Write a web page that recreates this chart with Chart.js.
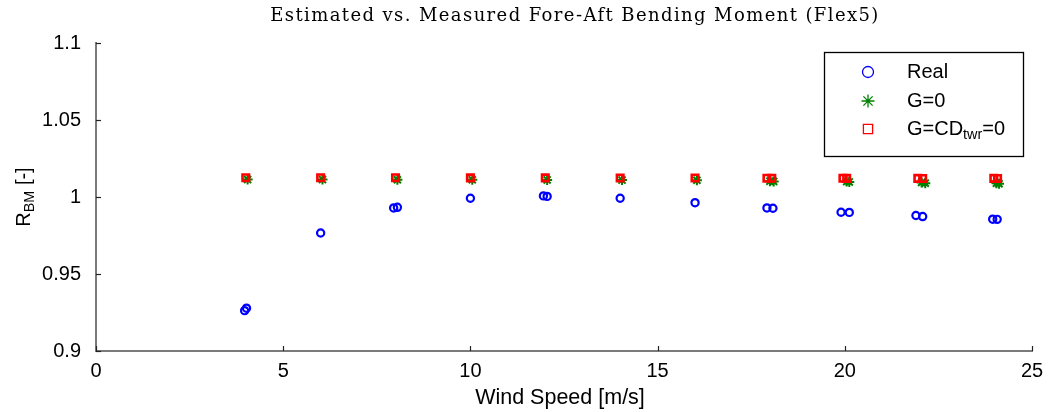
<!DOCTYPE html>
<html>
<head>
<meta charset="utf-8">
<script src="https://cdn.jsdelivr.net/npm/chart.js@4/dist/chart.umd.min.js"></script>
<style>
  html, body { margin: 0; padding: 0; background: #fff; }
  #wrap { width: 1048px; height: 412px; position: relative; }
</style>
</head>
<body>
<div id="wrap"><canvas id="c" width="1048" height="412"></canvas></div>
<script>
// Wind speeds [m/s] and bending-moment ratios for each estimator
const realWind   = [3.97, 4.02, 6.0, 7.95, 8.05, 10.0, 11.95, 12.05, 14.0, 16.0, 17.92, 18.08, 19.9, 20.12, 21.9, 22.08, 23.95, 24.07];
const realRatio  = [0.9262, 0.9278, 0.9766, 0.9929, 0.9933, 0.9992, 1.0007, 1.0004, 0.9992, 0.9963, 0.9929, 0.9927, 0.9901, 0.9900, 0.9880, 0.9873, 0.9856, 0.9855];

const g0Wind     = [4.05, 6.05, 8.05, 10.05, 12.05, 14.05, 16.05, 18.0, 18.1, 20.05, 20.12, 22.05, 22.15, 24.05, 24.12];
const g0Ratio    = [1.0113, 1.0113, 1.0112, 1.0112, 1.0111, 1.0110, 1.0109, 1.0103, 1.0101, 1.0100, 1.0098, 1.0094, 1.0090, 1.0090, 1.0086];

const gcdWind    = [4.0, 6.0, 8.0, 10.0, 12.0, 14.0, 16.0, 17.92, 18.05, 19.95, 20.05, 21.95, 22.08, 23.98, 24.08];
const gcdRatio   = [1.0125, 1.0125, 1.0125, 1.0124, 1.0124, 1.0123, 1.0123, 1.0122, 1.0122, 1.0122, 1.0121, 1.0121, 1.0120, 1.0121, 1.0120];

const xTicks = [0, 5, 10, 15, 20, 25];
const yTicks = [0.9, 0.95, 1, 1.05, 1.1];

const chartTitle = 'Estimated vs. Measured Fore-Aft Bending Moment (Flex5)';
const xTitle = 'Wind Speed [m/s]';

const toPoints = (xs, ys) => xs.map((x, i) => ({ x: x, y: ys[i] }));

const sansFont = '"Liberation Sans", Arial, sans-serif';
const serifFont = '"DejaVu Serif", "Liberation Serif", serif';

// order: lower values are painted on top, so the squares cover the stars
const series = [
  { label: 'Real', data: toPoints(realWind, realRatio), pointStyle: 'circle', color: '#0000ff', radius: 3.6, width: 2.2, order: 2 },
  { label: 'G=0', data: toPoints(g0Wind, g0Ratio), pointStyle: 'star', color: '#008000', radius: 5, width: 2, order: 1 },
  { label: 'G=CDtwr=0', data: toPoints(gcdWind, gcdRatio), pointStyle: 'rect', color: '#ff0000', radius: 4.6, width: 2.6, order: 0 }
];

// Draw text pieces in a row; pieces flagged sub are smaller and lowered
function drawRich(ctx, parts, x, y, size) {
  let cx = x;
  parts.forEach(p => {
    const s = p.sub ? size * 0.72 : size;
    ctx.font = s + 'px ' + sansFont;
    ctx.fillText(p.t, cx, y + (p.sub ? size * 0.32 : 0));
    cx += ctx.measureText(p.t).width;
  });
  return cx - x;
}
function richWidth(ctx, parts, size) {
  let w = 0;
  parts.forEach(p => {
    ctx.font = (p.sub ? size * 0.72 : size) + 'px ' + sansFont;
    w += ctx.measureText(p.t).width;
  });
  return w;
}

const decorations = {
  id: 'decorations',
  afterDraw(chart) {
    const ctx = chart.ctx;
    const xs = chart.scales.x, ys = chart.scales.y;
    const area = chart.chartArea;
    ctx.save();

    // inward tick marks
    ctx.strokeStyle = '#222';
    ctx.lineWidth = 1.2;
    xTicks.forEach(v => {
      const px = Math.round(xs.getPixelForValue(v)) + 0.5;
      ctx.beginPath(); ctx.moveTo(px, area.bottom); ctx.lineTo(px, area.bottom - 5); ctx.stroke();
    });
    yTicks.forEach(v => {
      const py = Math.round(ys.getPixelForValue(v)) + 0.5;
      ctx.beginPath(); ctx.moveTo(area.left, py); ctx.lineTo(area.left + 5, py); ctx.stroke();
    });

    // title
    ctx.fillStyle = '#000';
    ctx.font = '18px ' + serifFont;
    ctx.letterSpacing = '1.4px';
    ctx.textAlign = 'center';
    ctx.textBaseline = 'middle';
    ctx.fillText(chartTitle, 575, 16);
    ctx.letterSpacing = '0px';

    // x axis title
    ctx.font = '21.5px ' + sansFont;
    ctx.fillText(xTitle, 560, 398);

    // y axis title with subscript, rotated
    ctx.save();
    ctx.translate(24, 197);
    ctx.rotate(-Math.PI / 2);
    ctx.textAlign = 'left';
    const yParts = [{ t: 'R' }, { t: 'BM', sub: true }, { t: ' [-]' }];
    const yw = richWidth(ctx, yParts, 20);
    drawRich(ctx, yParts, -yw / 2, 0, 20);
    ctx.restore();

    // legend
    const lx = 824, ly = 52, lw = 199, lh = 104;
    ctx.fillStyle = '#fff';
    ctx.fillRect(lx, ly, lw, lh);
    ctx.strokeStyle = '#000';
    ctx.lineWidth = 1.3;
    ctx.strokeRect(lx + 0.5, ly + 0.5, lw, lh);
    const rows = [72, 101, 129];
    const labels = [
      [{ t: 'Real' }],
      [{ t: 'G=0' }],
      [{ t: 'G=CD' }, { t: 'twr', sub: true }, { t: '=0' }]
    ];
    series.forEach((s, i) => {
      ctx.strokeStyle = s.color;
      ctx.fillStyle = 'rgba(0,0,0,0)';
      ctx.lineWidth = 1.3;
      Chart.helpers.drawPoint(ctx, {
        pointStyle: s.pointStyle, radius: s.pointStyle === 'circle' ? 5.5 : 6.5, rotation: 0, borderWidth: 1.3
      }, 868, rows[i]);
      ctx.fillStyle = '#000';
      ctx.textAlign = 'left';
      ctx.textBaseline = 'middle';
      drawRich(ctx, labels[i], 907, rows[i], 20);
    });
    ctx.restore();
  }
};

const ctxMain = document.getElementById('c').getContext('2d');
new Chart(ctxMain, {
  type: 'scatter',
  data: {
    datasets: series.map(s => ({
      label: s.label,
      data: s.data,
      order: s.order,
      pointStyle: s.pointStyle,
      pointRadius: s.radius,
      pointBorderColor: s.color,
      pointBackgroundColor: 'rgba(0,0,0,0)',
      pointBorderWidth: s.width,
      showLine: false
    }))
  },
  options: {
    responsive: false,
    animation: false,
    events: [],
    layout: { padding: { top: 43, right: 16, left: 0, bottom: 0 } },
    plugins: { legend: { display: false }, title: { display: false }, tooltip: { enabled: false } },
    scales: {
      x: {
        type: 'linear', min: 0, max: 25,
        afterBuildTicks(scale) { scale.ticks = xTicks.map(v => ({ value: v })); },
        ticks: { font: { family: sansFont, size: 20 }, color: '#000', padding: 0, maxRotation: 0 },
        grid: { display: false },
        border: { display: true, color: '#7a7a7a', width: 2 },
        afterFit(scale) { scale.height = 61; }
      },
      y: {
        type: 'linear', min: 0.9, max: 1.1,
        afterBuildTicks(scale) { scale.ticks = yTicks.map(v => ({ value: v })); },
        ticks: { font: { family: sansFont, size: 20 }, color: '#000', padding: 7,
                 callback: v => String(Math.round(v * 100) / 100) },
        grid: { display: false },
        border: { display: true, color: '#7a7a7a', width: 2 },
        afterFit(scale) { scale.height = undefined; scale.width = 96; }
      }
    }
  },
  plugins: [decorations]
});
</script>
</body>
</html>
